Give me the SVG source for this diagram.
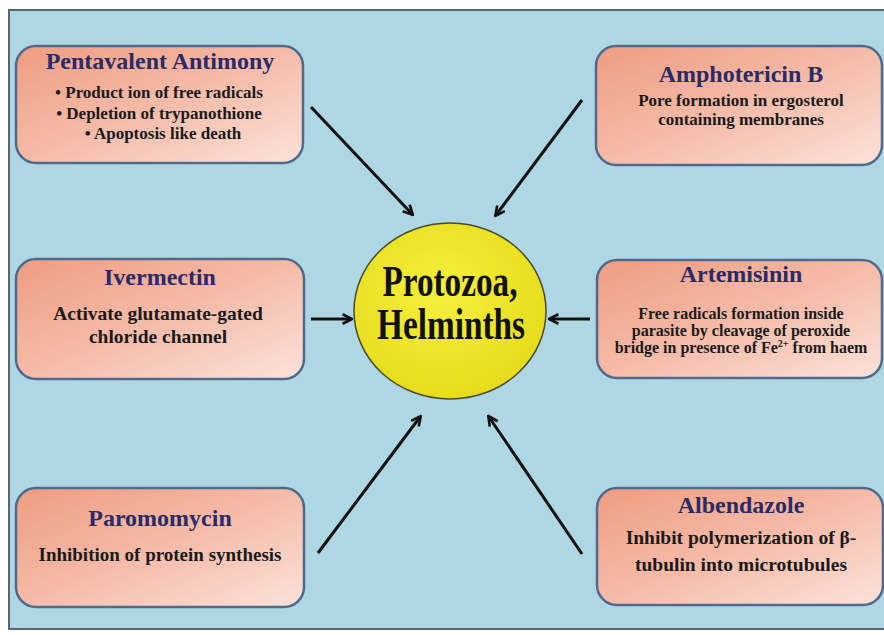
<svg xmlns="http://www.w3.org/2000/svg" width="884" height="635" viewBox="0 0 884 635">
<defs>
<linearGradient id="boxg" x1="0" y1="0" x2="1" y2="1">
<stop offset="0" stop-color="#ee9c80"/>
<stop offset="0.5" stop-color="#f5bba8"/>
<stop offset="1" stop-color="#fbe2da"/>
</linearGradient>
<radialGradient id="circg" cx="0.45" cy="0.4" r="0.6">
<stop offset="0" stop-color="#f6f03e"/>
<stop offset="1" stop-color="#e6dc1c"/>
</radialGradient>
<marker id="arr" viewBox="0 0 10 10" refX="8" refY="5" markerWidth="4" markerHeight="4" orient="auto" markerUnits="strokeWidth">
<path d="M1,1 L9,5 L1,9" fill="none" stroke="#111" stroke-width="2.2" stroke-linejoin="miter"/>
</marker>
</defs>
<style>
.box{fill:url(#boxg);stroke:#4f6a8c;stroke-width:2.5}
.title{font-family:"Liberation Serif",serif;font-weight:bold;font-size:24px;fill:#2b2b66;text-anchor:middle}
.body{font-family:"Liberation Serif",serif;font-weight:bold;fill:#1a1a1a;text-anchor:middle}
.center{font-family:"Liberation Serif",serif;font-weight:bold;font-size:45px;fill:#111;text-anchor:middle}
.conn{stroke:#111;stroke-width:3;fill:none;marker-end:url(#arr)}
</style>
<rect x="0" y="0" width="884" height="635" fill="#ffffff"/>
<rect x="9" y="10" width="890" height="619" fill="#aed7e3" stroke="#5b666c" stroke-width="2"/>

<g id="connectors">
<line class="conn" x1="311" y1="107" x2="412" y2="214"/>
<line class="conn" x1="582" y1="100" x2="496" y2="215"/>
<line class="conn" x1="311" y1="319" x2="351" y2="319"/>
<line class="conn" x1="590" y1="319" x2="550" y2="319"/>
<line class="conn" x1="318" y1="553" x2="420" y2="417"/>
<line class="conn" x1="582" y1="554" x2="489" y2="417"/>
</g>

<g id="center">
<ellipse cx="450" cy="311" rx="96" ry="88" fill="url(#circg)" stroke="#4a4a30" stroke-width="1.5"/>
<text class="center" x="450" y="296" textLength="135" lengthAdjust="spacingAndGlyphs">Protozoa,</text>
<text class="center" x="451" y="339" textLength="148" lengthAdjust="spacingAndGlyphs">Helminths</text>
</g>

<g id="pentavalent">
<rect class="box" x="16" y="46" width="287" height="117" rx="20"/>
<text class="title" x="160" y="69">Pentavalent Antimony</text>
<text class="body" x="159" y="98" font-size="17">• Product ion of free radicals</text>
<text class="body" x="159" y="119" font-size="17">• Depletion of trypanothione</text>
<text class="body" x="163" y="139" font-size="17">• Apoptosis like death</text>
</g>

<g id="amphotericin">
<rect class="box" x="596" y="46" width="286" height="119" rx="20"/>
<text class="title" x="741" y="82">Amphotericin B</text>
<text class="body" x="741" y="106" font-size="17">Pore formation in ergosterol</text>
<text class="body" x="741" y="125" font-size="17">containing membranes</text>
</g>

<g id="ivermectin">
<rect class="box" x="16" y="259" width="288" height="120" rx="20"/>
<text class="title" x="160" y="285">Ivermectin</text>
<text class="body" x="158" y="320" font-size="19.5">Activate glutamate-gated</text>
<text class="body" x="158" y="343" font-size="19.5">chloride channel</text>
</g>

<g id="artemisinin">
<rect class="box" x="597" y="260" width="285" height="118" rx="20"/>
<text class="title" x="741" y="282">Artemisinin</text>
<text class="body" x="741" y="319" font-size="16">Free radicals formation inside</text>
<text class="body" x="741" y="336" font-size="16">parasite by cleavage of peroxide</text>
<text class="body" x="741" y="353" font-size="16">bridge in presence of Fe<tspan font-size="10" dy="-6">2+</tspan><tspan dy="6"> from haem</tspan></text>
</g>

<g id="paromomycin">
<rect class="box" x="16" y="488" width="288" height="119" rx="20"/>
<text class="title" x="160" y="526">Paromomycin</text>
<text class="body" x="160" y="561" font-size="19">Inhibition of protein synthesis</text>
</g>

<g id="albendazole">
<rect class="box" x="597" y="488" width="286" height="117" rx="20"/>
<text class="title" x="741" y="513">Albendazole</text>
<text class="body" x="741" y="544" font-size="19.5">Inhibit polymerization of β-</text>
<text class="body" x="741" y="571" font-size="19.5">tubulin into microtubules</text>
</g>
</svg>
